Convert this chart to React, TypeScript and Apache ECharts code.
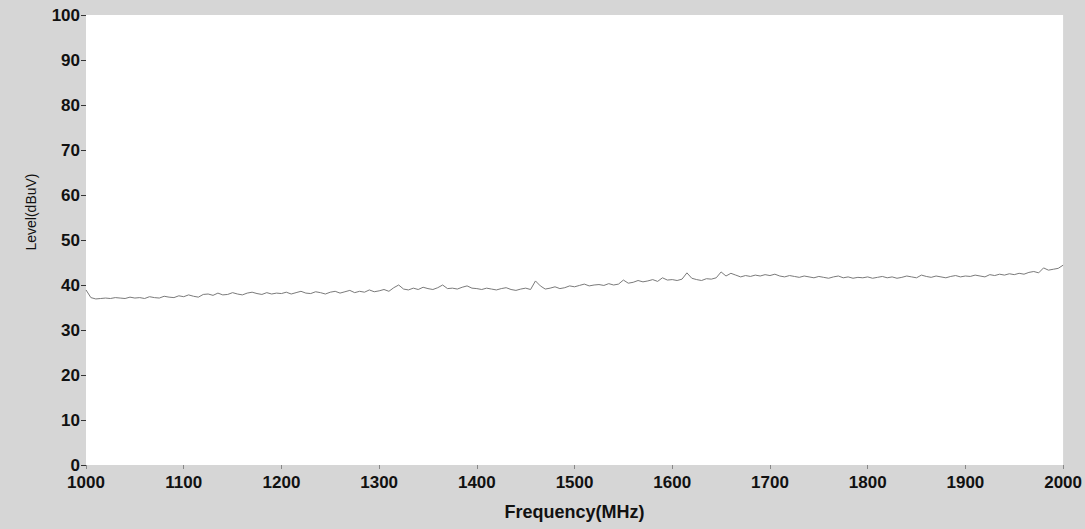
import React, { useEffect, useRef } from "react";
import * as echarts from "echarts";

const X_TICKS = [1000, 1100, 1200, 1300, 1400, 1500, 1600, 1700, 1800, 1900, 2000];
const Y_TICKS = [0, 10, 20, 30, 40, 50, 60, 70, 80, 90, 100];
const FREQ_STEP = 5; // MHz between samples, starting at 1000

// Level (dBuV), one value every 5 MHz from 1000 to 2000 MHz
const LEVELS_1000 = [38.9, 37.2, 36.9, 37.0, 37.1, 37.0, 37.2, 37.1, 37.0, 37.3, 37.1, 37.2, 37.0, 37.4, 37.2, 37.1, 37.5, 37.3, 37.2, 37.6];
const LEVELS_1100 = [37.4, 37.8, 37.5, 37.3, 37.9, 38.0, 37.7, 38.2, 37.8, 37.9, 38.3, 38.0, 37.8, 38.2, 38.4, 38.1, 37.9, 38.3, 38.0, 38.2];
const LEVELS_1200 = [38.1, 38.4, 38.0, 38.3, 38.6, 38.2, 38.1, 38.5, 38.3, 38.0, 38.4, 38.6, 38.2, 38.5, 38.8, 38.3, 38.6, 38.4, 38.9, 38.5];
const LEVELS_1300 = [38.7, 39.0, 38.6, 39.4, 40.0, 39.1, 38.9, 39.3, 39.0, 39.5, 39.2, 39.0, 39.4, 40.0, 39.2, 39.3, 39.1, 39.5, 39.8, 39.3];
const LEVELS_1400 = [39.2, 39.0, 39.3, 39.1, 38.9, 39.2, 39.4, 39.0, 38.8, 39.1, 39.3, 39.0, 40.9, 39.8, 39.1, 39.3, 39.6, 39.2, 39.4, 39.8];
const LEVELS_1500 = [39.6, 39.9, 40.2, 39.8, 40.0, 40.1, 39.9, 40.3, 40.0, 40.2, 41.1, 40.4, 40.6, 41.0, 40.7, 40.9, 41.2, 40.8, 41.6, 41.1];
const LEVELS_1600 = [41.2, 41.0, 41.3, 42.7, 41.5, 41.2, 41.0, 41.4, 41.3, 41.6, 42.9, 42.0, 42.6, 42.2, 41.8, 42.1, 41.9, 42.2, 42.0, 42.3];
const LEVELS_1700 = [42.1, 42.4, 42.0, 41.8, 42.1, 41.9, 41.7, 42.0, 41.8, 41.6, 41.9, 41.7, 41.5, 41.8, 42.0, 41.6, 41.8, 41.5, 41.7, 41.6];
const LEVELS_1800 = [41.8, 41.5, 41.7, 41.9, 41.6, 41.8, 41.5, 41.7, 42.0, 41.8, 41.6, 42.2, 41.9, 41.7, 42.0, 41.8, 41.6, 41.9, 42.1, 41.8];
const LEVELS_1900 = [42.0, 41.9, 42.2, 42.0, 41.8, 42.3, 42.1, 42.4, 42.2, 42.5, 42.3, 42.6, 42.4, 42.8, 43.0, 42.7, 43.8, 43.3, 43.5, 43.7];
const LEVELS_2000 = [44.4];

const LEVELS = [
  ...LEVELS_1000, ...LEVELS_1100, ...LEVELS_1200, ...LEVELS_1300, ...LEVELS_1400,
  ...LEVELS_1500, ...LEVELS_1600, ...LEVELS_1700, ...LEVELS_1800, ...LEVELS_1900, ...LEVELS_2000,
];

const FONT = "Liberation Sans, Arial, sans-serif";

export default function App() {
  const ref = useRef<HTMLDivElement>(null);
  useEffect(() => {
    if (!ref.current) return;
    const chart = echarts.init(ref.current, undefined, { renderer: "svg" });
    const data = LEVELS.map((v, i) => [X_TICKS[0] + i * FREQ_STEP, v]);
    chart.setOption({
      animation: false,
      backgroundColor: "#d6d6d6",
      grid: {
        left: 86,
        right: 19,
        top: 15,
        bottom: 64,
        show: true,
        backgroundColor: "#ffffff",
        borderWidth: 0,
      },
      xAxis: {
        type: "value",
        min: X_TICKS[0],
        max: X_TICKS[X_TICKS.length - 1],
        interval: 100,
        name: "Frequency(MHz)",
        nameLocation: "middle",
        nameGap: 38,
        nameTextStyle: { fontFamily: FONT, fontSize: 18, fontWeight: "bold", color: "#111" },
        axisLine: { show: false },
        axisTick: { show: true, length: 4, lineStyle: { color: "#888" } },
        splitLine: { show: false },
        axisLabel: {
          fontFamily: FONT,
          fontSize: 17,
          fontWeight: "bold",
          color: "#111",
          margin: 9,
          formatter: (v: number) => String(v),
        },
      },
      yAxis: {
        type: "value",
        min: Y_TICKS[0],
        max: Y_TICKS[Y_TICKS.length - 1],
        interval: 10,
        axisLine: { show: false },
        axisTick: { show: true, length: 5, lineStyle: { color: "#333" } },
        splitLine: { show: false },
        axisLabel: {
          fontFamily: FONT,
          fontSize: 17,
          fontWeight: "bold",
          color: "#111",
          margin: 6,
          formatter: (v: number) => String(v),
        },
      },
      graphic: [
        {
          type: "text",
          x: 31,
          y: 212,
          rotation: Math.PI / 2,
          style: {
            text: "Level(dBuV)",
            fontFamily: FONT,
            fontSize: 14,
            fill: "#111",
            textAlign: "center",
            textVerticalAlign: "middle",
          },
        },
      ],
      series: [
        {
          type: "line",
          data,
          showSymbol: false,
          lineStyle: { color: "#7a7a7a", width: 1 },
        },
      ],
    });
    return () => chart.dispose();
  }, []);
  return (
    <div
      ref={ref}
      style={{ position: "fixed", left: 0, top: 0, width: 1085, height: 529 }}
    />
  );
}
